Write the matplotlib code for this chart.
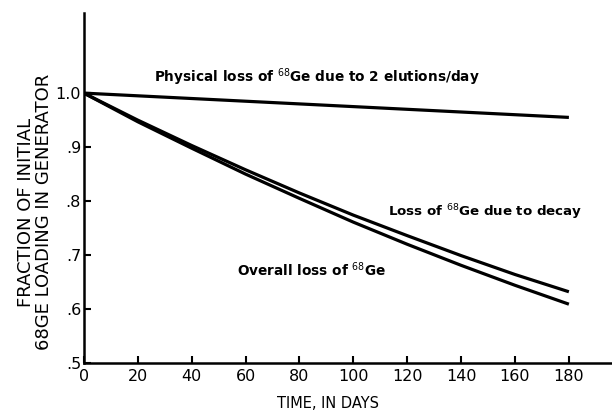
import matplotlib
matplotlib.use("Agg")
import matplotlib.pyplot as plt

days = [0, 20, 40, 60, 80, 100, 120, 140, 160, 180]
physical = [1.0, 0.995, 0.990, 0.985, 0.980, 0.975, 0.970, 0.965, 0.960, 0.955]
decay = [1.0, 0.950, 0.903, 0.858, 0.815, 0.774, 0.736, 0.699, 0.664, 0.632]
overall = [1.0, 0.947, 0.898, 0.850, 0.805, 0.761, 0.720, 0.681, 0.644, 0.609]

xticks = [0, 20, 40, 60, 80, 100, 120, 140, 160, 180]
yticks = [0.5, 0.6, 0.7, 0.8, 0.9, 1.0]
ytick_labels = [".5", ".6", ".7", ".8", ".9", "1.0"]

plt.rcParams['font.family'] = ['DejaVu Sans']

fig = plt.figure(figsize=(6.12, 4.13), dpi=100)
ax = fig.add_axes([0.137, 0.121, 0.863, 0.847])

for ys in (physical, decay, overall):
    ax.plot(days, ys, color='black', lw=2.3, solid_capstyle='butt')

ax.set_xlim(0, 196)
ax.set_ylim(0.5, 1.148)
ax.set_xticks(xticks)
ax.set_xticklabels([str(t) for t in xticks], fontsize=11.5)
ax.set_yticks(yticks)
ax.set_yticklabels(ytick_labels, fontsize=11.5)
ax.tick_params(axis='x', direction='in', length=5, width=1.5, pad=4)
ax.tick_params(axis='y', direction='in', length=5, width=1.5, pad=2)
for s in ('top', 'right'):
    ax.spines[s].set_visible(False)
for s in ('left', 'bottom'):
    ax.spines[s].set_linewidth(1.8)

fig.text(328 / 612, 1 - 403 / 413, "TIME, IN DAYS", fontsize=10.5, ha='center', va='center')
fig.text(35 / 612, 1 - 212 / 413, "FRACTION OF INITIAL\n68GE LOADING IN GENERATOR",
         fontsize=13, rotation=90, ha='center', va='center', multialignment='center', linespacing=0.95)

ax.text(26, 1.0295, r"Physical loss of $^{68}$Ge due to 2 elutions/day", fontsize=9.8, fontweight='bold', ha='left', va='center')
ax.text(113, 0.779, r"Loss of $^{68}$Ge due to decay", fontsize=9.6, fontweight='bold', ha='left', va='center')
ax.text(56.8, 0.673, r"Overall loss of $^{68}$Ge", fontsize=9.8, fontweight='bold', ha='left', va='center')

fig.savefig("out.png", dpi=100)
